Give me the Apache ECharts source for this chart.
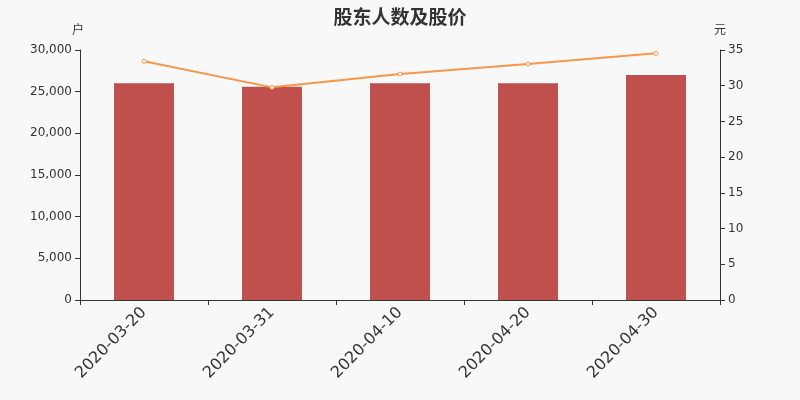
<!DOCTYPE html>
<html><head><meta charset="utf-8">
<script src="https://cdn.jsdelivr.net/npm/echarts@6/dist/echarts.min.js"></script>
<style>html,body{margin:0;padding:0;background:#f8f8f8}#c{width:800px;height:400px}</style>
</head><body><div id="c"></div>
<script>
const categories = ['2020-03-20','2020-03-31','2020-04-10','2020-04-20','2020-04-30'];
const holders = [26000, 25600, 26000, 26000, 27000];
const prices = [33.42, 29.77, 31.64, 33.04, 34.53];
const ff = 'DejaVu Sans';
const chart = echarts.init(document.getElementById('c'));
chart.setOption({
  backgroundColor: '#f8f8f8',
  textStyle: {fontFamily: ff},
  title: {text: '股东人数及股价', left: 'center', top: 2,
    textStyle: {fontSize: 19, fontWeight: 'bold', color: '#333', fontFamily: 'Noto Sans CJK SC'}},
  grid: {left: 80, right: 80, top: 50, bottom: 100},
  xAxis: {type: 'category', data: categories,
    axisLine: {lineStyle: {color: '#333'}},
    axisTick: {show: true, alignWithLabel: false, lineStyle: {color: '#333'}},
    axisLabel: {rotate: 45, fontSize: 16, color: '#333', interval: 0, margin: 10, fontFamily: ff}},
  yAxis: [
    {type: 'value', name: '户', min: 0, max: 30000, interval: 5000,
      nameTextStyle: {color: '#333', fontSize: 12, fontFamily: 'Noto Sans CJK SC', padding: [0, 0, 0, -4]},
      axisLine: {show: true, lineStyle: {color: '#333'}},
      axisTick: {show: true, lineStyle: {color: '#333'}},
      splitLine: {show: false},
      axisLabel: {color: '#333', fontSize: 12, fontFamily: ff}},
    {type: 'value', name: '元', min: 0, max: 35, interval: 5,
      nameTextStyle: {color: '#333', fontSize: 12, fontFamily: 'Noto Sans CJK SC', padding: [0, 0, 0, 0]},
      axisLine: {show: true, lineStyle: {color: '#333'}},
      axisTick: {show: true, lineStyle: {color: '#333'}},
      splitLine: {show: false},
      axisLabel: {color: '#333', fontSize: 12, fontFamily: ff}}
  ],
  series: [
    {type: 'bar', data: holders, barWidth: 60, itemStyle: {color: '#c0504d'}, yAxisIndex: 0},
    {type: 'line', data: prices, yAxisIndex: 1, symbol: 'circle', symbolSize: 4,
      itemStyle: {color: '#ffffff', borderColor: '#f79646', borderWidth: 1},
      lineStyle: {color: '#f79646', width: 2}}
  ]
});
</script></body></html>
